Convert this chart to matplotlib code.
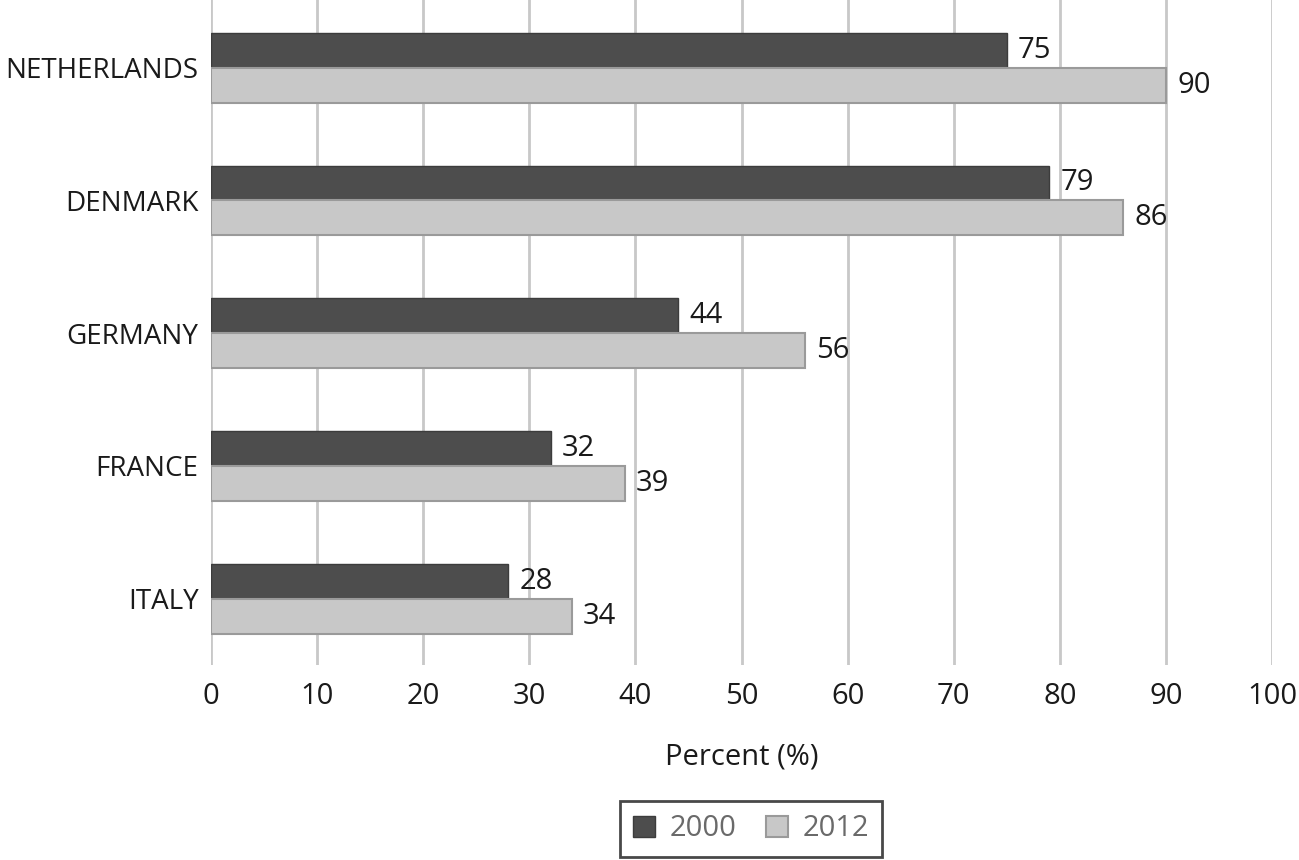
import numpy as np
import matplotlib
matplotlib.use("Agg")
import matplotlib.pyplot as plt

plt.rcParams['font.family'] = ['Open Sans', 'DejaVu Sans']

countries = ["NETHERLANDS", "DENMARK", "GERMANY", "FRANCE", "ITALY"]
values_2000 = [75, 79, 44, 32, 28]
values_2012 = [90, 86, 56, 39, 34]
series_names = ["2000", "2012"]
x_ticks = [0, 10, 20, 30, 40, 50, 60, 70, 80, 90, 100]

fs = 21

fig = plt.figure(figsize=(12.99, 8.6), dpi=100)
ax = fig.add_axes([211/1299, 1 - 665/860, (1272 - 211)/1299, 665/860])

y = np.arange(len(countries))
h = 0.263
b1 = ax.barh(y - h/2, values_2000, height=h, color="#4d4d4d",
             edgecolor="#3c3c3c", linewidth=1.0, label=series_names[0], zorder=3)
b2 = ax.barh(y + h/2, values_2012, height=h, color="#c8c8c8",
             edgecolor="#9a9a9a", linewidth=1.5, label=series_names[1], zorder=3)

for bars, vals in ((b1, values_2000), (b2, values_2012)):
    for rect, v in zip(bars, vals):
        ax.annotate(str(v), (v, rect.get_y() + rect.get_height()/2),
                    xytext=(8, 0), textcoords="offset points",
                    ha="left", va="center", fontsize=fs, color="#1a1a1a")

ax.set_xlim(0, 100)
ax.set_ylim(len(countries) - 0.5, -0.51)
ax.set_xticks(x_ticks)
ax.set_yticks(y)
ax.set_yticklabels(countries)
ax.tick_params(axis="both", length=0, labelsize=fs, colors="#1a1a1a")
ax.tick_params(axis="y", pad=9, labelsize=20)
ax.tick_params(axis="x", pad=12)
ax.xaxis.grid(True, color="#c8c8c8", linewidth=2, zorder=0)
ax.set_axisbelow(True)
for s in ax.spines.values():
    s.set_visible(False)
ax.set_xlabel("Percent (%)", fontsize=fs, color="#1a1a1a", labelpad=23)

leg = fig.legend(handles=[b1, b2], loc="center", bbox_to_anchor=(751/1299, 1 - 829/860),
                 ncol=2, fontsize=fs, frameon=True, fancybox=False,
                 handlelength=0.75, handleheight=0.75, handletextpad=0.5, columnspacing=1.0,
                 borderpad=0.45)
leg.get_frame().set_edgecolor("#1a1a1a")
leg.get_frame().set_linewidth(2)
for t in leg.get_texts():
    t.set_color("#6a6a6a")

fig.savefig("out.png", dpi=100)
